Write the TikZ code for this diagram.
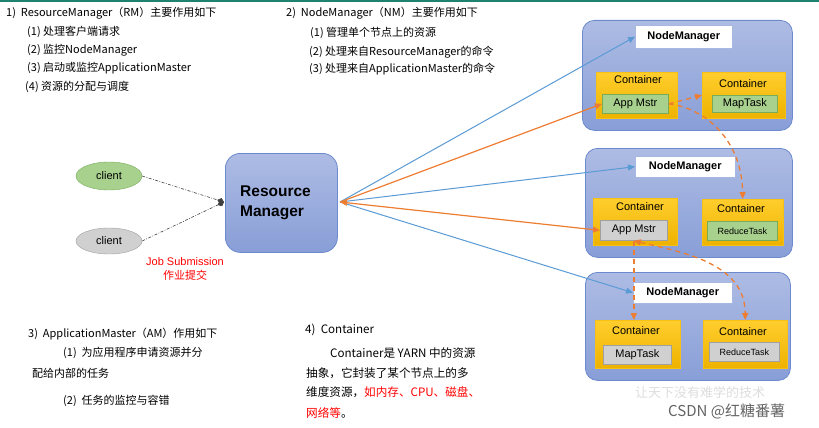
\documentclass[tikz,border=0pt]{standalone}
\usepackage{fontspec}
\setmainfont{Liberation Sans}
\newfontfamily\cjk{Noto Sans CJK SC}
\usetikzlibrary{arrows.meta,shapes.geometric}
\definecolor{nmtop}{RGB}{174,188,228}
\definecolor{nmbot}{RGB}{136,158,215}
\definecolor{nmdraw}{RGB}{108,138,205}
\definecolor{ctop}{RGB}{255,206,45}
\definecolor{cbot}{RGB}{238,178,0}
\definecolor{cdraw}{RGB}{246,192,20}
\definecolor{gfill}{RGB}{169,209,142}
\definecolor{gdraw}{RGB}{118,172,88}
\definecolor{gyfill}{RGB}{208,208,208}
\definecolor{gydraw}{RGB}{160,160,160}
\definecolor{lblue}{RGB}{91,155,213}
\definecolor{lorange}{RGB}{237,125,49}
\definecolor{topline}{RGB}{30,130,110}
\definecolor{wm}{RGB}{222,222,222}
\definecolor{csdn}{RGB}{100,100,100}
\tikzset{
  bigbox/.style={draw=nmdraw, line width=0.8pt, rounded corners=12pt, top color=nmtop, bottom color=nmbot, anchor=north west, inner sep=0pt},
  nmlab/.style={draw=nmdraw!60, fill=white, anchor=north west, inner sep=0pt, font=\bfseries\fontsize{11}{12}\selectfont},
  contbox/.style={draw=cdraw, top color=ctop, bottom color=cbot, anchor=north west, inner sep=0pt},
  gbox/.style={draw=gdraw, fill=gfill, line width=0.7pt, anchor=north west, inner sep=0pt, font=\fontsize{11}{12}\selectfont},
  gybox/.style={draw=gydraw, fill=gyfill, line width=0.7pt, anchor=north west, inner sep=0pt, font=\fontsize{11}{12}\selectfont},
  small/.style={font=\fontsize{9}{10}\selectfont},
  conttxt/.style={inner sep=0pt, font=\fontsize{11}{12}\selectfont},
  cjktxt/.style={anchor=west, inner sep=0pt, font=\cjk\fontsize{11}{13}\selectfont},
  cjkbig/.style={anchor=west, inner sep=0pt, font=\cjk\fontsize{11.6}{13}\selectfont},
  bline/.style={draw=lblue, line width=1pt, -{Triangle[length=7pt,width=6pt]}},
  oline/.style={draw=lorange, line width=1.2pt, -{Triangle[length=7pt,width=6pt]}},
  odash/.style={draw=lorange, line width=1.3pt, dash pattern=on 5pt off 4pt, -{Triangle[length=7pt,width=6pt]}},
  cline/.style={draw=black!75, line width=0.6pt, dash pattern=on 3pt off 1.5pt on 0.8pt off 1.5pt, -{Diamond[length=7pt,width=6pt]}},
  clientg/.style={ellipse, draw=gdraw, fill=gfill, minimum width=66pt, minimum height=28pt, inner sep=0pt, font=\fontsize{11}{12}\selectfont},
  clientgy/.style={ellipse, draw=gydraw, fill=gyfill, minimum width=66pt, minimum height=26pt, inner sep=0pt, font=\fontsize{11}{12}\selectfont},
}
\begin{document}
\begin{tikzpicture}[x=1pt,y=-1pt]
\useasboundingbox (0,0) rectangle (819,428);
\fill[white] (0,0) rectangle (819,428);
\draw[topline, line width=2pt] (0,1) -- (819,1);

% text blocks
\node[cjktxt] (t1) at (6,13) {1)\ \ ResourceManager（RM）主要作用如下};
\node[cjktxt] (t11) at (27,32) {(1)\ 处理客户端请求};
\node[cjktxt] (t12) at (27,50) {(2)\ 监控NodeManager};
\node[cjktxt] (t13) at (27,68) {(3)\ 启动或监控ApplicationMaster};
\node[cjktxt] (t14) at (25,87) {(4)\ 资源的分配与调度};

\node[cjktxt] (t2) at (286,13) {2)\ \ NodeManager（NM）主要作用如下};
\node[cjktxt] (t21) at (310,33) {(1)\ 管理单个节点上的资源};
\node[cjktxt] (t22) at (309,52) {(2)\ 处理来自ResourceManager的命令};
\node[cjktxt] (t23) at (309,69) {(3)\ 处理来自ApplicationMaster的命令};

\node[cjktxt] (t3) at (28,334) {3)\ \ ApplicationMaster（AM）作用如下};
\node[cjktxt] (t31) at (63,353) {(1)\ \ 为应用程序申请资源并分};
\node[cjktxt] (t32) at (32,373) {配给内部的任务};
\node[cjktxt] (t33) at (63,401) {(2)\ \ 任务的监控与容错};

\node[cjkbig] (t4) at (305,330) {4)\ \ Container};
\node[cjkbig] (t41) at (330,353) {Container是 YARN 中的资源};
\node[cjkbig] (t42) at (306,373) {抽象，它封装了某个节点上的多};
\node[cjkbig] (t43) at (306,392) {维度资源，\textcolor{red}{如内存、CPU、磁盘、}};
\node[cjkbig] (t44) at (306,413) {\textcolor{red}{网络等}。};

% clients and RM
\node[clientg] (cl1) at (109,176) {client};
\node[clientgy] (cl2) at (109,241) {client};
\node[draw=nmdraw, line width=0.8pt, rounded corners=15pt, top color=nmtop, bottom color=nmbot, anchor=north west, minimum width=112pt, minimum height=99pt, inner sep=0pt] (rm) at (225,153) {};
\node[anchor=west, align=left, inner sep=0pt, font=\bfseries\fontsize{15.5}{20}\selectfont] (rmt) at (240,203) {Resource\\Manager};
\node[inner sep=0pt, align=center, text=red, font=\fontsize{11}{13}\selectfont] (js) at (185,262) {Job Submission};
\node[inner sep=0pt, text=red, font=\cjk\fontsize{11}{13}\selectfont] (jz) at (185,275) {作业提交};
\coordinate (rmw) at (224,202);
\draw[cline] (cl1.east) -- (rmw);
\draw[cline] (cl2.east) -- (rmw);

% NodeManager 1
\node[bigbox, minimum width=210pt, minimum height=110pt] (nm1) at (582,20) {};
\node[nmlab, minimum width=97pt, minimum height=23pt] (nml1) at (635,25) {NodeManager};
\node[contbox, minimum width=81pt, minimum height=46pt] (c11) at (596,72) {};
\node[conttxt] (c11t) at (638,80) {Container};
\node[gbox, minimum width=66pt, minimum height=19pt] (am1) at (602,94) {App Mstr};
\node[contbox, minimum width=83pt, minimum height=46pt] (c12) at (702,72) {};
\node[conttxt] (c12t) at (743,84) {Container};
\node[gbox, minimum width=65pt, minimum height=17pt] (mt1) at (712,95) {MapTask};

% NodeManager 2
\node[bigbox, minimum width=207pt, minimum height=109pt] (nm2) at (585,148) {};
\node[nmlab, minimum width=100pt, minimum height=21pt] (nml2) at (635,156) {NodeManager};
\node[contbox, minimum width=84pt, minimum height=47pt] (c21) at (593,198) {};
\node[conttxt] (c21t) at (640,207) {Container};
\node[gybox, minimum width=67pt, minimum height=20pt] (am2) at (600,220) {App Mstr};
\node[contbox, minimum width=81pt, minimum height=46pt] (c22) at (702,199) {};
\node[conttxt] (c22t) at (741,209) {Container};
\node[gbox, small, minimum width=70pt, minimum height=19pt] (rt2) at (707,221) {ReduceTask};

% NodeManager 3
\node[bigbox, minimum width=205pt, minimum height=108pt] (nm3) at (585,272) {};
\node[nmlab, minimum width=99pt, minimum height=21pt] (nml3) at (633,282) {NodeManager};
\node[contbox, minimum width=85pt, minimum height=48pt] (c31) at (595,320) {};
\node[conttxt] (c31t) at (636,331) {Container};
\node[gybox, minimum width=68pt, minimum height=19pt] (mt3) at (603,345) {MapTask};
\node[contbox, minimum width=84pt, minimum height=48pt] (c32) at (703,320) {};
\node[conttxt] (c32t) at (743,332) {Container};
\node[gybox, small, minimum width=70pt, minimum height=19pt] (rt3) at (709,342) {ReduceTask};

% connectors from RM
\coordinate (rmc) at (340,202);
\draw[bline] (rmc) -- (nml1.west);
\draw[bline] (rmc) -- (nml2.west);
\draw[bline] (rmc) -- (nml3.west);
\draw[oline] (rmc) -- (am1.west);
\draw[oline, {Triangle[length=7pt,width=6pt]}-{Triangle[length=7pt,width=6pt]}] (rmc) -- (am2.west);

% dashed orange
\draw[odash] (am1.east) -- (c12.west);
\draw[odash] (am1.east) .. controls (705,108) and (742,140) .. (c22.north);
\draw[odash] (am2.south) -- (am2.south |- c31.north);
\draw[odash, {Triangle[length=7pt,width=6pt]}-{Triangle[length=7pt,width=6pt]}] (am2.south) .. controls (680,252) and (745,262) .. (c32.north);

% watermark
\node[inner sep=0pt, text=wm, font=\cjk\itshape\fontsize{13}{15}\selectfont] (wm1) at (700,393) {让天下没有难学的技术};
\node[anchor=west, inner sep=0pt, text=csdn, font=\cjk\fontsize{15}{17}\selectfont] (wm2) at (668,411) {CSDN @红糖番薯};
\end{tikzpicture}
\end{document}
